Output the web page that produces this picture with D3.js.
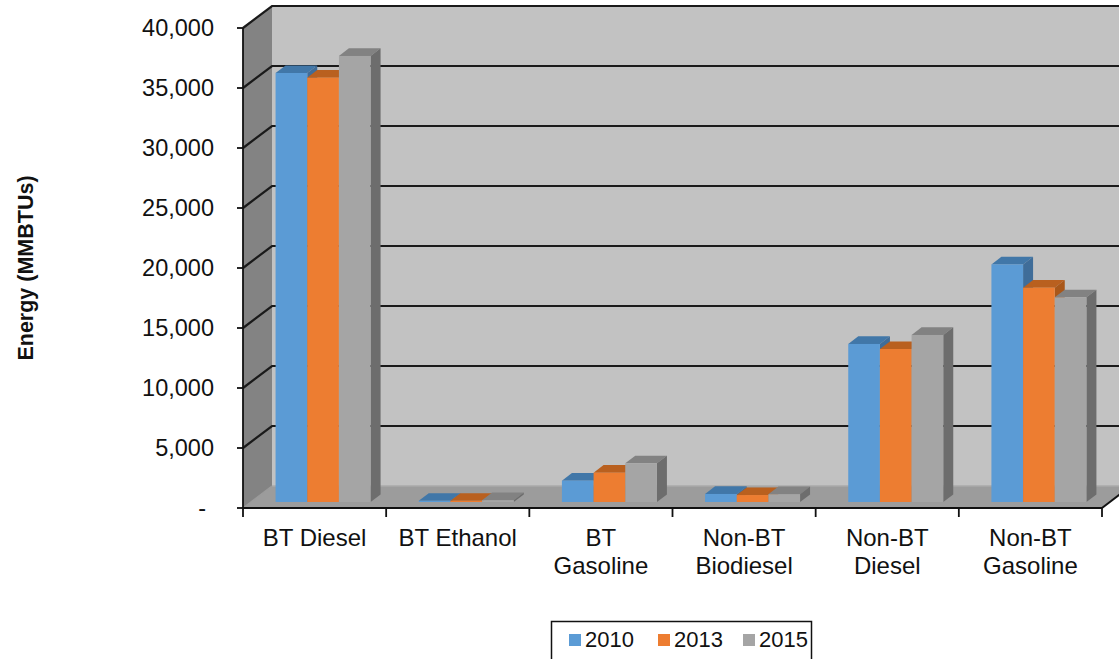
<!DOCTYPE html>
<html>
<head>
<meta charset="utf-8">
<script src="https://cdn.jsdelivr.net/npm/d3@7/dist/d3.min.js"></script>
<style>
  html, body { margin: 0; padding: 0; background: #ffffff; }
  svg { display: block; font-family: "Liberation Sans", Arial, sans-serif; }
</style>
</head>
<body>
<svg id="chart" width="1119" height="659"></svg>
<script>
// Fuel categories and energy use per year (MMBTUs)
const categories = [["BT Diesel"], ["BT Ethanol"], ["BT", "Gasoline"], ["Non-BT", "Biodiesel"], ["Non-BT", "Diesel"], ["Non-BT", "Gasoline"]];
const years = ["2010", "2013", "2015"];
const values2010 = [35750, 100, 1780, 670, 13170, 19800];
const values2013 = [35360, 100, 2440, 580, 12750, 17860];
const values2015 = [37170, 150, 3220, 650, 13920, 17060];
const yTicks = [0, 5000, 10000, 15000, 20000, 25000, 30000, 35000, 40000];

const seriesValues = [values2010, values2013, values2015];
const faceColors = {
  front: ["#5b9bd5", "#ed7d31", "#a5a5a5"],
  top:   ["#4177a8", "#b9601f", "#828282"],
  side:  ["#3f6d99", "#a95719", "#6d6d6d"]
};

const svg = d3.select("#chart");

// Front plane geometry and the oblique depth of the plot box
const plotLeft = 243, plotRight = 1102, plotBottom = 508, plotTop = 28;
const depth = { dx: 29, dy: -22 };
// Bars sit part-way back into the box
const barFront = { dx: 8.5, dy: -6 };
const barDepth = { dx: 10, dy: -7.6 };

const y = d3.scaleLinear().domain([0, 40000]).range([plotBottom, plotTop]);
const xCat = d3.scaleBand().domain(d3.range(categories.length)).range([plotLeft, plotRight]).padding(0);
const groupWidth = 95;
const xSer = d3.scaleBand().domain(years).range([0, groupWidth]).padding(0);

const pts = arr => arr.map(p => p.join(",")).join(" ");

// Walls and floor
const bx = depth.dx, by = depth.dy;
svg.append("polygon") // back wall
  .attr("points", pts([[plotLeft + bx, y(40000) + by], [plotRight + bx + 40, y(40000) + by], [plotRight + bx + 40, y(0) + by], [plotLeft + bx, y(0) + by]]))
  .attr("fill", "#c2c2c2");
svg.append("polygon") // left side wall
  .attr("points", pts([[plotLeft, y(40000)], [plotLeft + bx, y(40000) + by], [plotLeft + bx, y(0) + by], [plotLeft, y(0)]]))
  .attr("fill", "#838383");
svg.append("polygon") // floor
  .attr("points", pts([[plotLeft, y(0)], [plotLeft + bx, y(0) + by], [plotRight + bx, y(0) + by], [plotRight, y(0)]]))
  .attr("fill", "#9c9c9c");
svg.append("line")
  .attr("x1", plotLeft + bx).attr("x2", plotRight + bx + 40)
  .attr("y1", y(0) + by).attr("y2", y(0) + by)
  .attr("stroke", "#aaaaaa").attr("stroke-width", 1.5);
svg.append("line")
  .attr("x1", plotLeft).attr("y1", y(0))
  .attr("x2", plotLeft + bx).attr("y2", y(0) + by)
  .attr("stroke", "#9a9a9a").attr("stroke-width", 1.5);
svg.append("line") // right floor edge
  .attr("x1", plotRight).attr("y1", y(0))
  .attr("x2", plotRight + bx).attr("y2", y(0) + by)
  .attr("stroke", "#111111").attr("stroke-width", 2);

// Gridlines across the side wall and back wall
yTicks.filter(v => v > 0).forEach(v => {
  svg.append("polyline")
    .attr("points", pts([[plotLeft, y(v)], [plotLeft + bx, y(v) + by], [plotRight + bx + 40, y(v) + by]]))
    .attr("fill", "none")
    .attr("stroke", "#1a1a1a")
    .attr("stroke-width", 2.2);
});

// 3D columns
categories.forEach((cat, ci) => {
  const groupX = xCat(ci) + (xCat.bandwidth() - groupWidth) / 2 + barFront.dx;
  years.forEach((yr, si) => {
    const v = seriesValues[si][ci];
    const x0 = groupX + xSer(yr);
    const x1 = x0 + xSer.bandwidth();
    const yb = y(0) + barFront.dy;
    const yt = y(v) + barFront.dy;
    const ddx = barDepth.dx, ddy = barDepth.dy;
    // top face
    svg.append("polygon")
      .attr("points", pts([[x0, yt], [x0 + ddx, yt + ddy], [x1 + ddx, yt + ddy], [x1, yt]]))
      .attr("fill", faceColors.top[si]);
    // right side face
    svg.append("polygon")
      .attr("points", pts([[x1, yt], [x1 + ddx, yt + ddy], [x1 + ddx, yb + ddy], [x1, yb]]))
      .attr("fill", faceColors.side[si]);
    // front face
    svg.append("rect")
      .attr("x", x0).attr("y", yt)
      .attr("width", x1 - x0).attr("height", Math.max(0, yb - yt))
      .attr("fill", faceColors.front[si]);
  });
});

// Value axis
svg.append("line")
  .attr("x1", plotLeft).attr("x2", plotLeft)
  .attr("y1", y(40000)).attr("y2", y(0))
  .attr("stroke", "#111111").attr("stroke-width", 1.8);
const fmt = d3.format(",");
yTicks.forEach(v => {
  svg.append("line")
    .attr("x1", plotLeft - 6).attr("x2", plotLeft)
    .attr("y1", y(v)).attr("y2", y(v))
    .attr("stroke", "#111111").attr("stroke-width", 1.8);
  svg.append("text")
    .attr("x", v === 0 ? 206 : 214)
    .attr("y", y(v))
    .attr("dy", "0.35em")
    .attr("text-anchor", "end")
    .attr("font-size", 23.5)
    .attr("fill", "#111111")
    .text(v === 0 ? "-" : fmt(v));
});

// Category axis
svg.append("line")
  .attr("x1", plotLeft).attr("x2", plotRight)
  .attr("y1", y(0)).attr("y2", y(0))
  .attr("stroke", "#111111").attr("stroke-width", 2);
d3.range(categories.length + 1).forEach(i => {
  const x = plotLeft + i * xCat.bandwidth();
  svg.append("line")
    .attr("x1", x).attr("x2", x)
    .attr("y1", y(0)).attr("y2", y(0) + 9)
    .attr("stroke", "#111111").attr("stroke-width", 1.8);
});
categories.forEach((lines, ci) => {
  const t = svg.append("text")
    .attr("x", xCat(ci) + xCat.bandwidth() / 2)
    .attr("y", 545)
    .attr("text-anchor", "middle")
    .attr("font-size", 24)
    .attr("fill", "#111111");
  lines.forEach((ln, li) => {
    t.append("tspan")
      .attr("x", xCat(ci) + xCat.bandwidth() / 2)
      .attr("y", 545.5 + li * 28)
      .text(ln);
  });
});

// Axis title
svg.append("text")
  .attr("transform", "translate(33,268) rotate(-90)")
  .attr("text-anchor", "middle")
  .attr("font-size", 21.5)
  .attr("font-weight", "bold")
  .attr("fill", "#111111")
  .text("Energy (MMBTUs)");

// Legend
const legend = svg.append("g");
legend.append("rect")
  .attr("x", 551.5).attr("y", 621.5)
  .attr("width", 260).attr("height", 60)
  .attr("fill", "#ffffff")
  .attr("stroke", "#111111").attr("stroke-width", 1.5);
const legendX = [569, 658, 743];
years.forEach((yr, si) => {
  legend.append("rect")
    .attr("x", legendX[si]).attr("y", 634)
    .attr("width", 12).attr("height", 12)
    .attr("fill", faceColors.front[si]);
  legend.append("text")
    .attr("x", legendX[si] + 16).attr("y", 647)
    .attr("font-size", 22)
    .attr("fill", "#111111")
    .text(yr);
});
</script>
</body>
</html>
